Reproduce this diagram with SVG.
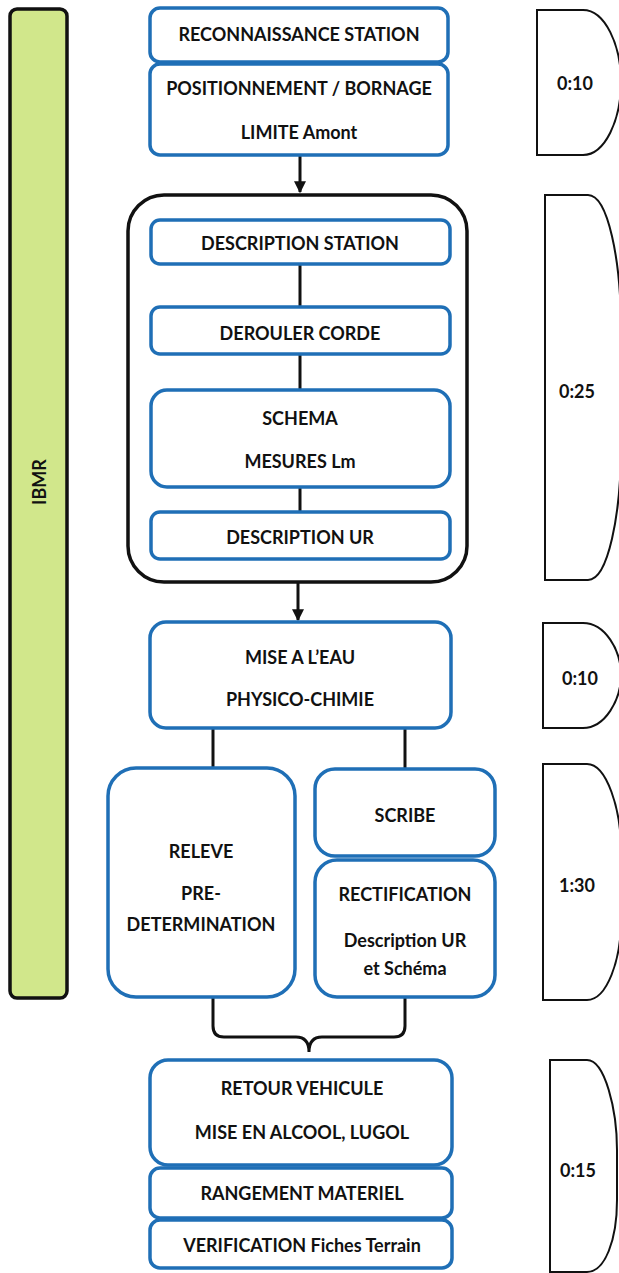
<svg xmlns="http://www.w3.org/2000/svg" width="619" height="1273" viewBox="0 0 619 1273">
<defs>
<style>
.n{fill:#fff;stroke:#1f6fb6;stroke-width:3.5}
.t{font-family:Lato,"Liberation Sans",sans-serif;font-weight:bold;font-size:18px;fill:#111;text-anchor:middle;dominant-baseline:central}
.c{fill:none;stroke:#111;stroke-width:3}
.d{fill:#fff;stroke:#111;stroke-width:2}
</style>
<marker id="ah" viewBox="0 0 10 10" refX="9" refY="5" markerWidth="4" markerHeight="4" orient="auto"><path d="M0,0 L10,5 L0,10 Z" fill="#111"/></marker>
</defs>
<rect width="619" height="1273" fill="#fff"/>
<g id="ibmr">
<rect x="10" y="9" width="57" height="989" rx="7" fill="#d1e78b" stroke="#111" stroke-width="3.5"/>
<text class="t" transform="translate(39,482) rotate(-90)">IBMR</text>
</g>
<g id="connectors">
<line class="c" x1="300" y1="156" x2="300" y2="192" marker-end="url(#ah)"/>
<line class="c" x1="300" y1="264" x2="300" y2="307"/>
<line class="c" x1="300" y1="354" x2="300" y2="390"/>
<line class="c" x1="300" y1="487" x2="300" y2="512"/>
<line class="c" x1="298" y1="583" x2="298" y2="620" marker-end="url(#ah)"/>
<line class="c" x1="213" y1="728" x2="213" y2="768"/>
<line class="c" x1="405" y1="728" x2="405" y2="769"/>
<path class="c" d="M213,998 V1026 Q213,1037 224,1037 H296 Q309,1037 309,1052 Q309,1037 322,1037 H394 Q405,1037 405,1026 V998"/>
</g>
<g id="group-box">
<rect x="128" y="195" width="339" height="387" rx="36" fill="none" stroke="#111" stroke-width="3.5"/>
</g>
<g id="n1"><rect class="n" x="150" y="8" width="298" height="54" rx="10"/><text class="t" x="299" y="34">RECONNAISSANCE STATION</text></g>
<g id="n2"><rect class="n" x="150" y="64" width="298" height="91" rx="10"/><text class="t" x="299" y="88">POSITIONNEMENT / BORNAGE</text><text class="t" x="299" y="132">LIMITE Amont</text></g>
<g id="n3"><rect class="n" x="151" y="220" width="299" height="44" rx="9"/><text class="t" x="300" y="243">DESCRIPTION STATION</text></g>
<g id="n4"><rect class="n" x="151" y="307" width="299" height="47" rx="9"/><text class="t" x="300" y="333">DEROULER CORDE</text></g>
<g id="n5"><rect class="n" x="151" y="390" width="299" height="97" rx="16"/><text class="t" x="300" y="418">SCHEMA</text><text class="t" x="300" y="461">MESURES Lm</text></g>
<g id="n6"><rect class="n" x="151" y="512" width="299" height="47" rx="9"/><text class="t" x="300" y="537">DESCRIPTION UR</text></g>
<g id="n7"><rect class="n" x="150" y="622" width="301" height="106" rx="16"/><text class="t" x="300" y="657">MISE A L’EAU</text><text class="t" x="300" y="699">PHYSICO-CHIMIE</text></g>
<g id="n8"><rect class="n" x="108" y="768" width="187" height="229" rx="28"/><text class="t" x="201" y="851">RELEVE</text><text class="t" x="201" y="893">PRE-</text><text class="t" x="201" y="924">DETERMINATION</text></g>
<g id="n9"><rect class="n" x="315" y="769" width="180" height="87" rx="20"/><text class="t" x="405" y="815">SCRIBE</text></g>
<g id="n10"><rect class="n" x="315" y="860" width="180" height="137" rx="22"/><text class="t" x="405" y="894">RECTIFICATION</text><text class="t" x="405" y="940">Description UR</text><text class="t" x="405" y="968">et Schéma</text></g>
<g id="n11"><rect class="n" x="150" y="1060" width="302" height="105" rx="18"/><text class="t" x="302" y="1088">RETOUR VEHICULE</text><text class="t" x="302" y="1132">MISE EN ALCOOL, LUGOL</text></g>
<g id="n12"><rect class="n" x="150" y="1168" width="302" height="50" rx="10"/><text class="t" x="302" y="1193">RANGEMENT MATERIEL</text></g>
<g id="n13"><rect class="n" x="150" y="1220" width="302" height="48" rx="10"/><text class="t" x="302" y="1245">VERIFICATION Fiches Terrain</text></g>
<g id="d1"><path class="d" d="M537,10 H583 C605,10 621,45 621,82 C621,120 605,155 583,155 H537 Z"/><text class="t" x="575" y="83">0:10</text></g>
<g id="d2"><path class="d" d="M545,195 H588 C608,195 621,260 621,330 V445 C621,515 608,580 588,580 H545 Z"/><text class="t" x="577" y="391">0:25</text></g>
<g id="d3"><path class="d" d="M543,623 H583 C605,623 621,650 621,675 C621,700 605,728 583,728 H543 Z"/><text class="t" x="580" y="678">0:10</text></g>
<g id="d4"><path class="d" d="M543,764 H587 C607,764 621,810 621,850 V920 C621,960 607,1000 587,1000 H543 Z"/><text class="t" x="577" y="885">1:30</text></g>
<g id="d5"><path class="d" d="M550,1060 H587 C605,1060 617,1110 617,1150 V1200 C617,1240 605,1272 587,1272 H550 Z"/><text class="t" x="578" y="1170">0:15</text></g>
</svg>
